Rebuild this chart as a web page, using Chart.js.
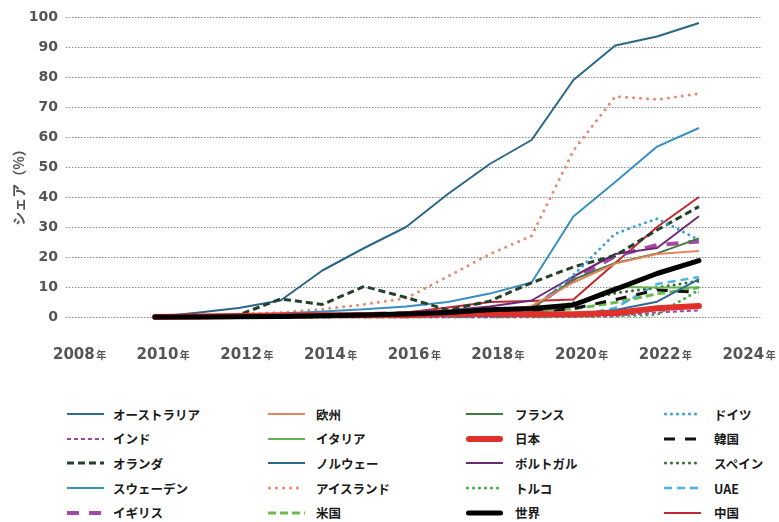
<!DOCTYPE html>
<html lang="ja">
<head>
<meta charset="utf-8">
<script src="https://cdn.jsdelivr.net/npm/chart.js@4"></script>
<style>
  body { margin: 0; background: #fff; font-family: "Noto Sans CJK JP", sans-serif; }
  #wrap { position: relative; width: 779px; height: 522px; overflow: hidden; }
  #chartBox { position: absolute; left: 0; top: 0; width: 779px; height: 380px; }
  .item { position: absolute; height: 20px; display: flex; align-items: center; }
  .item span { position: absolute; white-space: nowrap; font-weight: 700; font-size: 12.5px; color: #1a1a1a; }
</style>
</head>
<body>
<div id="wrap">
  <div id="chartBox"><canvas id="evChart"></canvas></div>
  <div id="legend"></div>
</div>
<script>
// years on the x axis and the tick labels
const years = [2010, 2011, 2012, 2013, 2014, 2015, 2016, 2017, 2018, 2019, 2020, 2021, 2022, 2023];
const xTicks = [2008, 2010, 2012, 2014, 2016, 2018, 2020, 2022, 2024];

// share (%) per year
const australia = [0, 0, 0.1, 0.1, 0.2, 0.2, 0.3, 0.3, 0.3, 0.6, 0.8, 2.3, 5.1, 12.6];
const europe    = [0, 0, 0.1, 0.3, 0.4, 0.8, 1, 1.4, 2, 3.6, 11.5, 17.8, 21, 22];
const france    = [0, 0.1, 0.3, 0.6, 0.7, 1.2, 1.5, 1.7, 2.2, 2.8, 12.5, 18, 21.2, 26.2];
const germany   = [0, 0, 0, 0, 0.1, 0.2, 0.4, 0.7, 1, 2.5, 14, 27.8, 32.8, 25.7];
const india     = [0, 0, 0, 0, 0, 0, 0, 0, 0, 0.1, 0.2, 0.4, 1.5, 2.2];
const italy     = [0, 0, 0, 0, 0.1, 0.2, 0.2, 0.3, 0.5, 0.9, 4.3, 10, 9.8, 9.8];
const japan     = [0, 0.2, 0.3, 0.5, 0.6, 0.6, 0.6, 1, 1.1, 0.9, 0.9, 1.3, 2.9, 3.7];
const korea     = [0, 0, 0, 0, 0.1, 0.2, 0.4, 0.8, 1.5, 1.6, 2.8, 5.8, 9, 8.2];
const netherl   = [0, 0, 0.7, 6, 4.2, 10.2, 6.5, 2.3, 5.3, 11.4, 16.7, 20.5, 29, 36.8];
const norway    = [0, 1.4, 3, 5.5, 15.5, 23, 30, 41, 51, 59, 79, 90.5, 93.5, 98];
const portugal  = [0, 0, 0.2, 0.2, 0.5, 0.8, 1.3, 2.2, 3.5, 5.5, 13.5, 21, 23, 33.6];
const spain     = [0, 0, 0, 0, 0.1, 0.2, 0.3, 0.5, 0.8, 1.4, 4.8, 8, 9.8, 12];
const sweden    = [0, 0.3, 0.8, 1.2, 1.8, 2.6, 3.5, 5, 7.8, 11.5, 33.5, 45, 56.8, 63];
const iceland   = [0, 0.3, 1, 1.5, 2.6, 4.2, 6.3, 13.5, 21, 27, 55.5, 73.5, 72.5, 74.5];
const turkey    = [0, 0, 0, 0, 0, 0, 0, 0, 0, 0, 0.1, 0.3, 0.8, 9];
const uae       = [0, 0, 0, 0, 0, 0, 0, 0, 0, 0.1, 0.3, 3, 11, 13.3];
const uk        = [0, 0, 0.1, 0.2, 0.6, 1, 1.3, 1.7, 2.3, 3, 12.5, 20.3, 24, 25.2];
const usa       = [0, 0.1, 0.4, 0.6, 0.7, 0.7, 0.9, 1.2, 2.1, 2.2, 2.7, 4.8, 7.7, 9.8];
const world     = [0, 0, 0.1, 0.2, 0.4, 0.7, 1, 1.5, 2.4, 2.8, 4, 9.2, 14.5, 18.8];
const china     = [0, 0, 0.1, 0.1, 0.3, 1, 1.5, 3.2, 5, 5.3, 5.8, 18, 30, 40];

// legend order (row by row, 4 columns)
const series = [
  { label: "オーストラリア", data: australia, color: "#2e6b8e", width: 2 },
  { label: "欧州",           data: europe,    color: "#e8845c", width: 2 },
  { label: "フランス",       data: france,    color: "#3f7b41", width: 2 },
  { label: "ドイツ",         data: germany,   color: "#3a9dd3", width: 3, dash: [0, 6], cap: "round" },
  { label: "インド",         data: india,     color: "#a142a6", width: 2, dash: [4, 3] },
  { label: "イタリア",       data: italy,     color: "#64b04e", width: 2 },
  { label: "日本",           data: japan,     color: "#e0302c", width: 6, cap: "round", top: 1 },
  { label: "韓国",           data: korea,     color: "#111111", width: 3, dash: [11, 10] },
  { label: "オランダ",       data: netherl,   color: "#24412b", width: 3, dash: [7, 4] },
  { label: "ノルウェー",     data: norway,    color: "#2b6688", width: 2 },
  { label: "ポルトガル",     data: portugal,  color: "#6b2b72", width: 2 },
  { label: "スペイン",       data: spain,     color: "#2e6b33", width: 3, dash: [0, 6], cap: "round" },
  { label: "スウェーデン",   data: sweden,    color: "#3a8fc1", width: 2 },
  { label: "アイスランド",   data: iceland,   color: "#e8876b", width: 3, dash: [0, 7], cap: "round" },
  { label: "トルコ",         data: turkey,    color: "#3eaa44", width: 3, dash: [0, 6], cap: "round" },
  { label: "UAE",            data: uae,       color: "#4cb3e2", width: 2.5, dash: [8, 5] },
  { label: "イギリス",       data: uk,        color: "#a548a8", width: 4, dash: [12, 10] },
  { label: "米国",           data: usa,       color: "#6cbb50", width: 3, dash: [8, 4] },
  { label: "世界",           data: world,     color: "#000000", width: 5, cap: "round", top: 0 },
  { label: "中国",           data: china,     color: "#c3272f", width: 2 }
];

const datasets = series.map((s, i) => ({
  label: s.label,
  data: years.map((yr, k) => ({ x: yr, y: s.data[k] })),
  borderColor: s.color,
  backgroundColor: s.color,
  borderWidth: s.width,
  borderDash: s.dash || [],
  borderCapStyle: s.cap || "butt",
  borderJoinStyle: "round",
  pointRadius: 0,
  tension: 0,
  fill: false,
  clip: false,
  order: s.top !== undefined ? s.top : 10 + i
}));

// dotted horizontal grid, drawn at the y scale's ticks
const dottedGrid = {
  id: "dottedGrid",
  beforeDatasetsDraw(chart) {
    const ctx = chart.ctx;
    const ys = chart.scales.y;
    const { left, right } = chart.chartArea;
    ctx.save();
    ctx.strokeStyle = "#8c8c8c";
    ctx.lineWidth = 1;
    ctx.setLineDash([1.5, 1.5]);
    ys.ticks.forEach(t => {
      const y = Math.round(ys.getPixelForValue(t.value)) + 0.5;
      ctx.beginPath();
      ctx.moveTo(left, y);
      ctx.lineTo(right, y);
      ctx.stroke();
    });
    ctx.restore();
  }
};

// x labels with a small 年, plus the y axis title
const axisText = {
  id: "axisText",
  afterDraw(chart) {
    const ctx = chart.ctx;
    const xs = chart.scales.x;
    ctx.save();
    ctx.fillStyle = "#555";
    ctx.textBaseline = "alphabetic";
    ctx.textAlign = "left";
    xTicks.forEach(yr => {
      const x = xs.getPixelForValue(yr) + 2.5;
      ctx.font = "bold 15px 'DejaVu Sans'";
      const num = String(yr);
      const w = ctx.measureText(num).width;
      ctx.fillText(num, x - w / 2, 358.5);
      ctx.font = "bold 10px 'Noto Sans CJK JP'";
      ctx.fillText("年", x + w / 2 + 1.5, 358.5);
    });
    ctx.translate(19, 184);
    ctx.rotate(-Math.PI / 2);
    ctx.textAlign = "center";
    ctx.textBaseline = "middle";
    ctx.font = "bold 14px 'Noto Sans CJK JP'";
    ctx.fillText("シェア（%）", 0, 0);
    ctx.restore();
  }
};

new Chart(document.getElementById("evChart"), {
  type: "line",
  data: { datasets: datasets },
  options: {
    responsive: true,
    maintainAspectRatio: false,
    animation: false,
    layout: { padding: { left: 0, right: 17, top: 17, bottom: 0 } },
    plugins: {
      legend: { display: false },
      tooltip: { enabled: false }
    },
    scales: {
      x: {
        type: "linear",
        min: 2007.873,
        max: 2024.507,
        grid: { display: false },
        border: { display: false },
        ticks: { display: false },
        afterFit(scale) { scale.height = 63; }
      },
      y: {
        min: 0,
        max: 100,
        ticks: {
          stepSize: 10,
          padding: 8,
          color: "#555",
          font: { family: "'DejaVu Sans'", size: 14, weight: "bold" }
        },
        grid: { display: false, drawTicks: false },
        border: { display: false },
        afterFit(scale) { scale.width = 66; }
      }
    }
  },
  plugins: [dottedGrid, axisText]
});

// HTML legend, 4 columns
const colLine = [67, 268, 466, 664];
const colText = [113, 316, 515, 714];
const rowY = [414, 438.5, 463, 488, 512.5];
const legend = document.getElementById("legend");
series.forEach((s, i) => {
  const col = i % 4, row = Math.floor(i / 4);
  const item = document.createElement("div");
  item.className = "item";
  item.style.left = colLine[col] + "px";
  item.style.top = (rowY[row] - 10) + "px";
  const dash = s.dash ? s.dash.join(" ") : "none";
  const cap = s.cap || "butt";
  const pad = cap === "round" ? s.width / 2 : 0;
  item.innerHTML =
    `<svg width="40" height="20" style="position:absolute;left:0;top:0">` +
    `<line x1="${pad}" y1="10" x2="${37 - pad}" y2="10" stroke="${s.color}" stroke-width="${s.width}" ` +
    `stroke-dasharray="${dash}" stroke-linecap="${cap}"/></svg>` +
    `<span style="left:${colText[col] - colLine[col]}px">${s.label}</span>`;
  legend.appendChild(item);
});
</script>
</body>
</html>
